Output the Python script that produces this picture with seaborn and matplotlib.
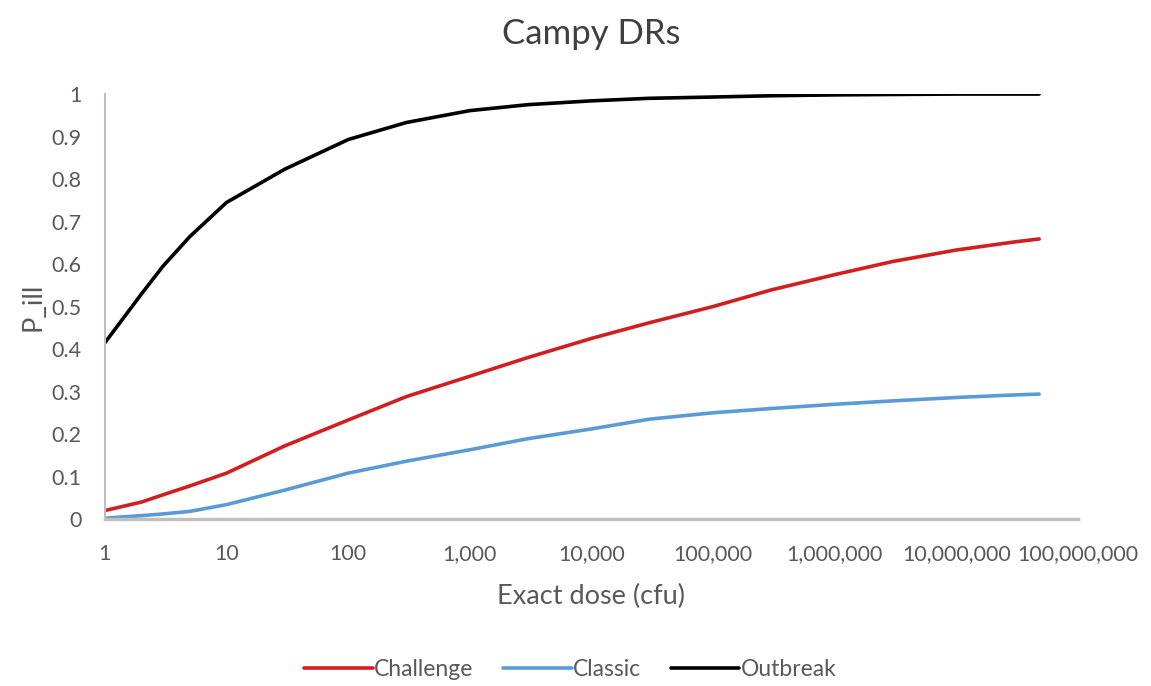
import numpy as np
import pandas as pd
import matplotlib
matplotlib.use("Agg")
import matplotlib.pyplot as plt
import seaborn as sns

# dose points (cfu) and P_ill values
dose = [1, 2, 3, 5, 10, 30, 100, 300, 1000, 3000, 10000, 30000,
        100000, 300000, 1000000, 3000000, 10000000, 30000000, 48000000]
challenge = [0.02, 0.04, 0.057, 0.078, 0.108, 0.172, 0.233, 0.288, 0.336,
             0.38, 0.425, 0.462, 0.50, 0.539, 0.575, 0.606, 0.633, 0.652, 0.659]
classic = [0.002, 0.008, 0.012, 0.018, 0.034, 0.068, 0.108, 0.136, 0.163,
           0.189, 0.212, 0.235, 0.25, 0.26, 0.27, 0.278, 0.286, 0.292, 0.294]
outbreak = [0.415, 0.53, 0.595, 0.665, 0.745, 0.823, 0.893, 0.933, 0.961,
            0.975, 0.984, 0.99, 0.993, 0.996, 0.998, 0.999, 1.0, 1.0, 1.0]

series = ["Challenge", "Classic", "Outbreak"]
colors = ["#d01f1f", "#5b9bd5", "#000000"]
xticks = [10 ** k for k in range(9)]
xticklabels = ["1", "10", "100", "1,000", "10,000", "100,000",
               "1,000,000", "10,000,000", "100,000,000"]

df = pd.DataFrame({
    "dose": dose * 3,
    "p": challenge + classic + outbreak,
    "model": np.repeat(series, len(dose)),
})

sns.set_style("white")
plt.rcParams["font.family"] = ["Lato", "DejaVu Sans"]

fig = plt.figure(figsize=(11.51, 6.86), dpi=100)
ax = fig.add_axes([0.0912, 0.2434, 0.8453, 0.6195])

sns.lineplot(data=df, x="dose", y="p", hue="model", palette=colors,
             linewidth=2.6, ax=ax, legend=True)

ax.set_xscale("log")
ax.set_xlim(1, 1e8)
ax.set_ylim(0, 1)
ax.set_xticks(xticks)
ax.set_xticklabels(xticklabels)
ax.minorticks_off()
ax.set_yticks(np.arange(0, 1.01, 0.1))
ax.set_yticklabels(["0"] + [f"{v:.1f}" for v in np.arange(0.1, 1.0, 0.1)] + ["1"])
ax.tick_params(axis="both", length=0, labelsize=15.5, colors="#595959")
ax.tick_params(axis="x", pad=18)
ax.tick_params(axis="y", pad=17)

for s in ["top", "right"]:
    ax.spines[s].set_visible(False)
ax.spines["left"].set_color("#bfbfbf")
ax.spines["left"].set_linewidth(1.5)
ax.spines["bottom"].set_color("#bfbfbf")
ax.spines["bottom"].set_linewidth(2.5)

ax.set_title("Campy DRs", fontsize=25, color="#404040", pad=36)
ax.set_xlabel("Exact dose (cfu)", fontsize=19.5, color="#595959", labelpad=14)
ax.set_ylabel("P_ill", fontsize=19.5, color="#595959", labelpad=4)

handles, labels = ax.get_legend_handles_labels()
ax.legend(handles, labels, loc="center", bbox_to_anchor=(0.478, -0.355),
          ncol=3, frameon=False, fontsize=16.5, handlelength=3.0,
          handletextpad=0.05, columnspacing=1.3, labelcolor="#595959")

fig.savefig("out.png", dpi=100)
